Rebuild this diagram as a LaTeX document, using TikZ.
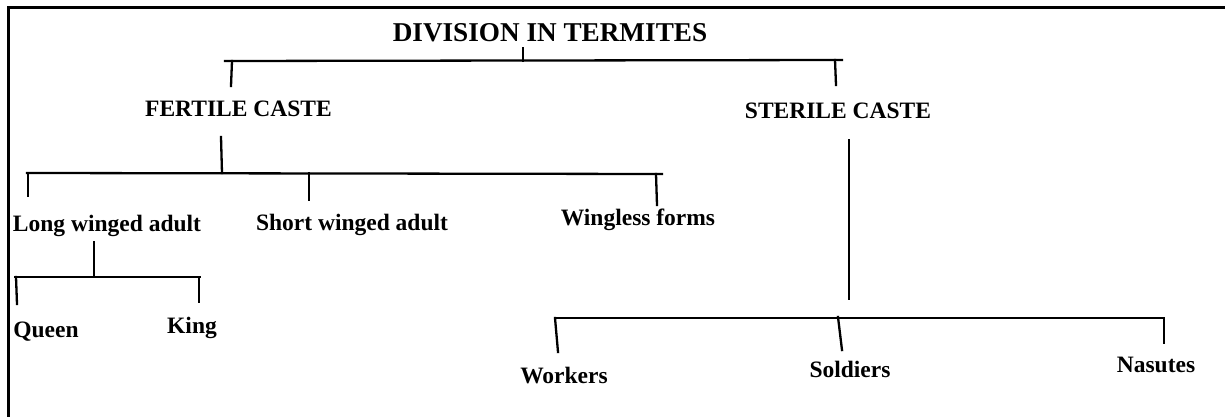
\documentclass[tikz,border=0pt]{standalone}
\usepackage{fontspec}
\setmainfont{Liberation Serif}
\begin{document}
\begin{tikzpicture}[x=1pt,y=-1pt,
  lbl/.style={font=\fontsize{23.5}{28}\selectfont\bfseries, inner sep=0pt, anchor=base},
  ttl/.style={font=\fontsize{27.2}{32}\selectfont\bfseries, inner sep=0pt, anchor=base},
  conn/.style={line width=2.3pt, line cap=rect},
  frm/.style={line width=3pt}]
\useasboundingbox (0,0) rectangle (1225,417);
% frame
\coordinate (fA) at (8,417);
\coordinate (fB) at (8,8);
\coordinate (fC) at (1225,8);
\draw[frm] (fA) -- (fB) -- (fC);
% labels
\node[ttl] (title) at (550,42) {DIVISION IN TERMITES};
\node[lbl] (fert) at (238.5,117) {FERTILE CASTE};
\node[lbl] (ster) at (838,118) {STERILE CASTE};
\node[lbl] (long) at (107,231) {Long winged adult};
\node[lbl] (short) at (352,230) {Short winged adult};
\node[lbl] (wing) at (638,225) {Wingless forms};
\node[lbl] (queen) at (46,337) {Queen};
\node[lbl] (king) at (192,333) {King};
\node[lbl] (work) at (564,383) {Workers};
\node[lbl] (sold) at (850,377) {Soldiers};
\node[lbl] (nas) at (1156,372) {Nasutes};
% level 1
\coordinate (t0) at (523,48);
\coordinate (t1) at (523,61);
\coordinate (hL1) at (225,61);
\coordinate (hR1) at (842,60);
\coordinate (dF0) at (232,61);
\coordinate (dF1) at (231,86);
\coordinate (dS0) at (835,60);
\coordinate (dS1) at (836,85);
\draw[conn] (t0) -- (t1);
\draw[conn] (hL1) -- (hR1);
\draw[conn] (dF0) -- (dF1);
\draw[conn] (dS0) -- (dS1);
% fertile branch
\coordinate (f0) at (221,137);
\coordinate (f1) at (222,173);
\coordinate (hL2) at (27,173);
\coordinate (hR2) at (662,174);
\coordinate (a0) at (28,173);
\coordinate (a1) at (28,196);
\coordinate (b0) at (309,173);
\coordinate (b1) at (309,200);
\coordinate (c0) at (656,174);
\coordinate (c1) at (657,205);
\draw[conn] (f0) -- (f1);
\draw[conn] (hL2) -- (hR2);
\draw[conn] (a0) -- (a1);
\draw[conn] (b0) -- (b1);
\draw[conn] (c0) -- (c1);
% long winged branch
\coordinate (l0) at (94,242);
\coordinate (l1) at (94,277);
\coordinate (hL3) at (15,277);
\coordinate (hR3) at (200,277);
\coordinate (q0) at (16,277);
\coordinate (q1) at (17,304);
\coordinate (k0) at (199,277);
\coordinate (k1) at (199,302);
\draw[conn] (l0) -- (l1);
\draw[conn] (hL3) -- (hR3);
\draw[conn] (q0) -- (q1);
\draw[conn] (k0) -- (k1);
% sterile branch
\coordinate (s0) at (849,140);
\coordinate (s1) at (849,299);
\coordinate (hL4) at (555,318);
\coordinate (hR4) at (1164,318);
\coordinate (w0) at (555,318);
\coordinate (w1) at (558,352);
\coordinate (o0) at (838,317);
\coordinate (o1) at (842,350);
\coordinate (n0) at (1164,318);
\coordinate (n1) at (1164,343);
\draw[conn] (s0) -- (s1);
\draw[conn] (hL4) -- (hR4);
\draw[conn] (w0) -- (w1);
\draw[conn] (o0) -- (o1);
\draw[conn] (n0) -- (n1);
\end{tikzpicture}
\end{document}
